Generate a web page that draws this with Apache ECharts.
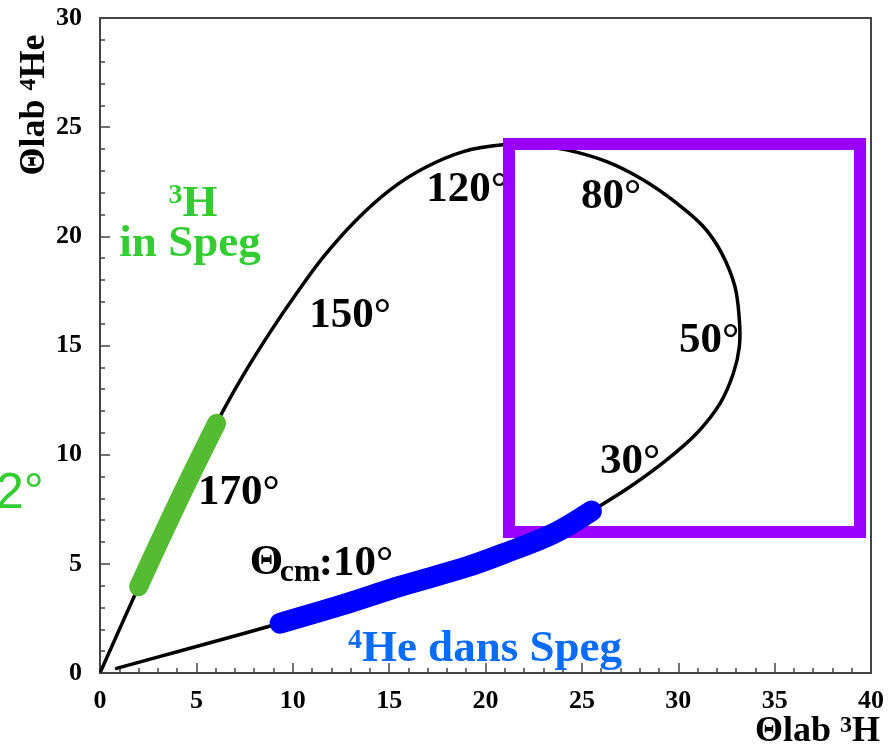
<!DOCTYPE html>
<html>
<head>
<meta charset="utf-8">
<script src="https://cdn.jsdelivr.net/npm/echarts@6/dist/echarts.min.js"></script>
<style>
html,body{margin:0;padding:0;background:#fff;}
#c{width:889px;height:747px;}
</style>
</head>
<body>
<div id="c"></div>
<script>
// Kinematic curve: Θlab(3H) vs Θlab(4He), from Θcm ~0° (lower branch) to ~180° (upper branch)
const curveX = [0.86, 4.2, 7.5, 9.34, 12.5, 15.6, 19.0, 21.1, 23.5, 25.5, 27.5, 29.4, 30.96, 32.17, 32.86, 33.17, 33.17, 32.94, 32.25, 31.3, 29.92, 28.19, 26.29, 24.21, 22.5, 20.9, 18.85, 16.8, 15.05, 13.3, 11.6, 10.2, 8.82, 7.44, 6.05, 4.0, 2.0, 0.05];
const curveY = [0.21, 1.02, 1.82, 2.28, 3.1, 3.98, 4.85, 5.52, 6.37, 7.42, 8.53, 9.76, 10.98, 12.35, 13.73, 14.95, 16.17, 17.7, 19.23, 20.45, 21.52, 22.58, 23.42, 23.96, 24.15, 24.19, 23.88, 23.12, 22.13, 20.75, 19.07, 17.39, 15.6, 13.65, 11.44, 7.75, 3.95, 0.1];
// 4He accepted in Speg (blue band) and 3H accepted in Speg (green band): index ranges on the curve
const heBandRange = [3, 9];
const tBandRange = [34, 36];
// Purple selection box (corners, data units)
const boxX = [21.22, 39.43, 39.43, 21.22, 21.22];
const boxY = [24.23, 24.23, 6.46, 6.46, 24.23];
// Annotations
const annoText = ['150°', '120°', '80°', '50°', '30°', '170°', 'Θ', '{c|cm}', ':10°', '{p|3}{g|H}', '{g|in Speg}', '{q|4}{b|He dans Speg}'];
const annoX = [12.97, 19.04, 26.51, 31.6, 27.5, 7.21, 8.64, 10.38, 13.28, 4.82, 4.67, 19.97];
const annoY = [16.35, 22.13, 21.8, 15.21, 9.67, 8.25, 5.04, 4.58, 4.99, 21.48, 19.65, 1.10];
// Axes
const xTicks = {min: 0, max: 40, interval: 5};
const yTicks = {min: 0, max: 30, interval: 5};
const xTitle = '{a|Θlab }{s|3}{a|H}';
const yTitle = '{a|Θlab }{s|4}{a|He}';

const pts = (xs, ys) => xs.map((x, i) => [x, ys[i]]);
const curve = pts(curveX, curveY);
const heBand = curve.slice(heBandRange[0], heBandRange[1] + 1);
const tBand = curve.slice(tBandRange[0], tBandRange[1] + 1);

const SERIF = '"Liberation Serif", "Times New Roman", serif';
const chart = echarts.init(document.getElementById('c'), null, {renderer: 'canvas'});

// Smooth curve drawn through the cartesian scales (custom series, one path for the whole array)
function smoothSeries(data, color, width, z) {
  return {
    type: 'custom', z: z, silent: true, data: data, encode: {x: 0, y: 1},
    renderItem: function (params, api) {
      if (params.dataIndex !== 0) return null;
      const points = data.map(p => api.coord(p));
      return {
        type: 'polyline',
        shape: {points: points, smooth: 0.35},
        style: {stroke: color, lineWidth: width, fill: null, lineCap: 'round', lineJoin: 'round'}
      };
    }
  };
}

const axisCommon = {
  type: 'value',
  axisLine: {show: true, onZero: false, lineStyle: {color: '#444', width: 2}},
  axisTick: {show: true, inside: true, length: 10, lineStyle: {color: '#444', width: 1.5}},
  minorTick: {show: true, splitNumber: 5, length: 5, lineStyle: {color: '#444', width: 1.5}},
  splitLine: {show: false},
  axisLabel: {color: '#000', fontFamily: SERIF, fontWeight: 'bold', fontSize: 26}
};

const mainRich = {
  c: {fontFamily: SERIF, fontWeight: 'bold', fontSize: 32, color: '#000'},
  p: {fontFamily: SERIF, fontWeight: 'bold', fontSize: 28, lineHeight: 28, verticalAlign: 'top', color: '#33cc33'},
  g: {fontFamily: SERIF, fontWeight: 'bold', fontSize: 45, lineHeight: 45, color: '#33cc33'},
  q: {fontFamily: SERIF, fontWeight: 'bold', fontSize: 28, lineHeight: 28, verticalAlign: 'top', color: '#0a6cff'},
  b: {fontFamily: SERIF, fontWeight: 'bold', fontSize: 45, lineHeight: 45, color: '#0a6cff'}
};

const titleRich = {
  a: {fontFamily: SERIF, fontWeight: 'bold', fontSize: 36, lineHeight: 38, fill: '#000', verticalAlign: 'top'},
  s: {fontFamily: SERIF, fontWeight: 'bold', fontSize: 24, lineHeight: 24, fill: '#000', verticalAlign: 'top'}
};

chart.setOption({
  animation: false,
  backgroundColor: '#fff',
  grid: {left: 100, right: 18, top: 18, bottom: 74, show: true, borderColor: '#444', borderWidth: 2, backgroundColor: 'transparent'},
  xAxis: Object.assign({}, axisCommon, xTicks, {
    axisLabel: Object.assign({}, axisCommon.axisLabel, {margin: 15})
  }),
  yAxis: Object.assign({}, axisCommon, yTicks, {
    axisLabel: Object.assign({}, axisCommon.axisLabel, {margin: 18})
  }),
  series: [
    smoothSeries(curve, '#000', 3.5, 2),
    {
      type: 'scatter', symbolSize: 0, z: 3, silent: true,
      itemStyle: {opacity: 1},
      data: annoText.map((t, i) => ({value: [annoX[i], annoY[i]], name: t})),
      label: {
        show: true, position: 'inside', formatter: p => p.name, opacity: 1,
        fontFamily: SERIF, fontWeight: 'bold', fontSize: 43, color: '#000',
        rich: mainRich
      }
    },
    {
      type: 'line', data: pts(boxX, boxY), showSymbol: false, smooth: false, z: 4,
      lineStyle: {color: '#9900ff', width: 12, join: 'miter', cap: 'square'}, silent: true
    },
    smoothSeries(heBand, '#0000ff', 21, 5),
    smoothSeries(tBand, '#55bb33', 19, 5)
  ],
  graphic: [
    {
      type: 'text', x: 880, y: 714, z: 10,
      style: {text: xTitle, rich: titleRich, align: 'right', verticalAlign: 'top'}
    },
    {
      type: 'text', x: 17, y: 105, rotation: Math.PI / 2, z: 10,
      style: {text: yTitle, rich: titleRich, align: 'center', verticalAlign: 'top'}
    },
    {
      type: 'text', x: -4, y: 494, z: 10,
      style: {text: '2°', fill: '#33cc33', font: 'normal 50px "Liberation Sans", Arial, sans-serif', align: 'left', verticalAlign: 'middle'}
    }
  ]
});
</script>
</body>
</html>
